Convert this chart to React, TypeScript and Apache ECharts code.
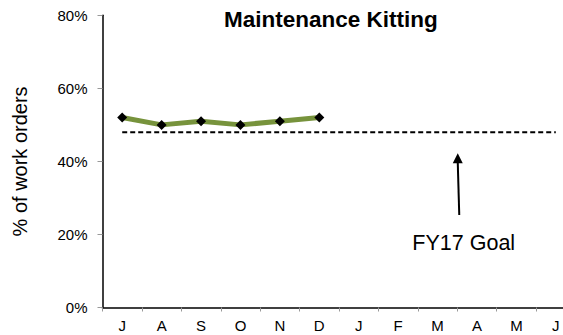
import React, { useEffect, useRef } from "react";
import * as echarts from "echarts";

// Monthly categories across the fiscal year (Jul–Jun)
const months = ["J", "A", "S", "O", "N", "D", "J", "F", "M", "A", "M", "J"];
// Share of work orders kitted, Jul–Dec (%)
const kittingPct = [52, 50, 51, 50, 51, 52];
// FY17 goal level (%), held flat over the year
const goalPct = [48, 48, 48, 48, 48, 48, 48, 48, 48, 48, 48, 48];
// Value-axis ticks
const yTicks = [0, 20, 40, 60, 80];

const FONT = "Arial, 'Liberation Sans', Helvetica, sans-serif";

export default function App() {
  const ref = useRef<HTMLDivElement>(null);

  useEffect(() => {
    if (!ref.current) return;
    const chart = echarts.init(ref.current, null, { renderer: "svg" });

    chart.setOption({
      animation: false,
      backgroundColor: "#ffffff",
      textStyle: { fontFamily: FONT },
      title: {
        text: "Maintenance Kitting",
        left: 224,
        top: 8,
        padding: 0,
        textStyle: { fontFamily: FONT, fontSize: 22.5, fontWeight: "bold", color: "#000" },
      },
      // The plot runs past the right edge of the canvas, so the last month sits near the border
      grid: {
        left: 102.5,
        top: 15.3,
        width: 473,
        height: 292.2,
        containLabel: false,
        outerBoundsMode: "none",
      },
      xAxis: {
        type: "category",
        data: months,
        boundaryGap: true,
        axisLine: { lineStyle: { color: "#000", width: 1.5 } },
        axisTick: { show: true, length: 4, lineStyle: { color: "#999", width: 1 } },
        axisLabel: { color: "#000", fontSize: 15, fontFamily: FONT, margin: 10, interval: 0 },
        splitLine: { show: false },
      },
      yAxis: {
        type: "value",
        min: yTicks[0],
        max: yTicks[yTicks.length - 1],
        interval: 20,
        name: "% of work orders",
        nameLocation: "middle",
        nameGap: 73,
        nameTextStyle: { color: "#000", fontSize: 20, fontFamily: FONT },
        axisLine: { show: true, lineStyle: { color: "#000", width: 1.5 } },
        axisTick: { show: true, length: 5, lineStyle: { color: "#999", width: 1 } },
        axisLabel: { color: "#000", fontSize: 15, fontFamily: FONT, margin: 15, formatter: "{value}%" },
        splitLine: { show: false },
      },
      series: [
        {
          name: "FY17 Goal",
          type: "line",
          data: goalPct,
          symbol: "none",
          lineStyle: { color: "#000", width: 2, type: [5, 3] },
          z: 2,
        },
        {
          name: "Kitting",
          type: "line",
          data: kittingPct,
          symbol: "diamond",
          symbolSize: 10,
          itemStyle: { color: "#000" },
          lineStyle: { color: "#77933C", width: 5 },
          z: 3,
        },
      ],
    });

    // Arrow pointing up at the goal line (between March and April), caption below it
    const toPx = (idx: number, v: number) =>
      chart.convertToPixel({ xAxisIndex: 0, yAxisIndex: 0 }, [idx, v]) as number[];
    const mar = toPx(8, 42.2);
    const apr = toPx(9, 42.2);
    const ax = (mar[0] + apr[0]) / 2 + 0.5;
    const tipY = mar[1];
    const tailY = toPx(8, 25.3)[1];
    const head = 10;
    chart.setOption({
      graphic: [
        {
          type: "line",
          shape: { x1: ax + 1.5, y1: tailY, x2: ax, y2: tipY + head - 1 },
          style: { stroke: "#000", lineWidth: 2 },
        },
        {
          type: "polygon",
          shape: {
            points: [
              [ax, tipY],
              [ax - head / 2, tipY + head],
              [ax + head / 2, tipY + head],
            ],
          },
          style: { fill: "#000" },
        },
        {
          type: "text",
          x: ax + 6,
          y: tailY + 28,
          style: {
            text: "FY17 Goal",
            fontFamily: FONT,
            fontSize: 21.5,
            fill: "#000",
            align: "center",
            verticalAlign: "middle",
          },
        },
      ],
    });

    return () => chart.dispose();
  }, []);

  return (
    <div
      ref={ref}
      style={{ position: "fixed", left: 0, top: 0, width: 563, height: 335, background: "#fff" }}
    />
  );
}
